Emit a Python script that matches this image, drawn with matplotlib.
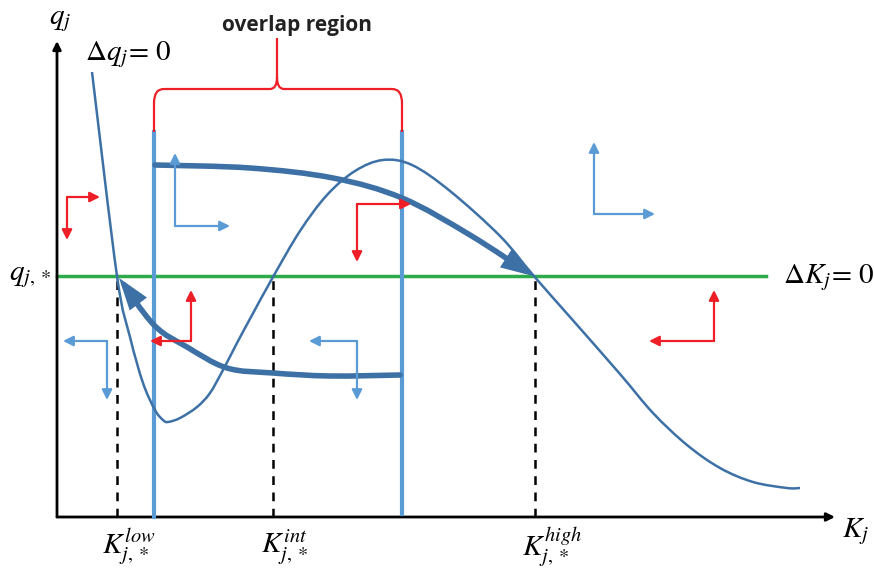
import numpy as np
import matplotlib
matplotlib.use("Agg")
import matplotlib.pyplot as plt
from matplotlib.path import Path
from matplotlib.patches import PathPatch, FancyArrowPatch

plt.rcParams["mathtext.fontset"] = "stix"

# ── colours ──────────────────────────────────────────────────────────────────
DARK_BLUE = "#3D71A6"
LIGHT_BLUE = "#5B9BD5"
GREEN = "#2DAA4A"
RED = "#EE1F26"

# ── data (K along x, q along y, origin at the axes corner) ─────────────────
q_star = 241
K_low, K_int, K_high = 60, 216, 478
K_overlap = [97, 345]          # edges of the overlap region
overlap_top = 385

# Δq_j = 0 nullcline
dq_K = [35, 60, 73, 86, 98, 106, 111, 123, 140, 153, 166, 180, 194, 216,
        243, 270, 298, 326, 355, 393, 443, 476, 513, 563, 596, 630, 663,
        696, 730, 743]
dq_q = [445, 241, 180, 134, 107, 97, 95, 99, 110, 124, 147, 174, 200, 240,
        286, 322, 346, 357, 352, 326, 281, 242, 200, 143, 104, 72, 49,
        35, 29, 29]

# thick trajectories
upper_K = [98, 193, 276, 345, 413, 476]
upper_q = [352, 349, 339, 319, 282, 241]
lower_K = [343, 273, 216, 170, 130, 97, 62]
lower_q = [142, 141, 144, 149, 170, 192, 239]

# direction arrows: corner, horizontal tip, vertical tip
red_corner = [(10, 320), (300, 313), (134, 176), (657, 176)]
red_htip = [43, 354, 93, 592]
red_vtip = [277, 255, 227, 227]
blue_corner = [(118, 291), (537, 303), (50, 176), (300, 176)]
blue_htip = [173, 598, 6, 252]
blue_vtip = [364, 375, 117, 117]


def smooth_path(xs, ys, tension=6.0):
    """Catmull-Rom through the points, expressed as cubic Bezier segments."""
    pts = np.column_stack([xs, ys]).astype(float)
    verts = [pts[0]]
    codes = [Path.MOVETO]
    for i in range(len(pts) - 1):
        p0 = pts[i - 1] if i > 0 else pts[i]
        p1, p2 = pts[i], pts[i + 1]
        p3 = pts[i + 2] if i + 2 < len(pts) else pts[i + 1]
        verts += [p1 + (p2 - p0) / tension, p2 - (p3 - p1) / tension, p2]
        codes += [Path.CURVE4] * 3
    return Path(verts, codes)


fig = plt.figure(figsize=(8.74, 5.69), dpi=100)
ax = fig.add_axes([0, 0, 1, 1])
ax.set_xlim(-57, 817)
ax.set_ylim(-52, 517)
ax.axis("off")

# axes with arrows
ax.annotate("", xy=(778, 0), xytext=(0, 0),
            arrowprops=dict(arrowstyle="-|>", color="black", lw=2,
                            mutation_scale=12, shrinkA=0, shrinkB=0))
ax.annotate("", xy=(0, 476), xytext=(0, 0),
            arrowprops=dict(arrowstyle="-|>", color="black", lw=2,
                            mutation_scale=12, shrinkA=0, shrinkB=0))

# ΔK_j = 0 line
ax.plot([0, 709], [q_star, q_star], color=GREEN, lw=2.5, zorder=2)

# dashed drop lines
for k in (K_low, K_int, K_high):
    ax.plot([k, k], [0, q_star], color="black", lw=1.8, ls=(0, (3.5, 3)),
            zorder=1)

# overlap region boundaries
ax.plot([K_overlap[0]] * 2, [0, overlap_top], color=LIGHT_BLUE, lw=3, zorder=3)
ax.plot([K_overlap[1]] * 2, [3, overlap_top], color=LIGHT_BLUE, lw=3, zorder=3)

# brace over the overlap region
mid = (K_overlap[0] + K_overlap[1]) / 2 - 1
l, r = K_overlap
brace = Path(
    [(l, overlap_top), (l, 414), (l, 428), (l + 10, 428), (mid - 7, 428),
     (mid, 428), (mid, 440), (mid, 479),
     (mid, 440), (mid, 428), (mid + 7, 428),
     (r - 10, 428), (r, 428), (r, 414), (r, overlap_top)],
    [Path.MOVETO, Path.LINETO, Path.CURVE3, Path.CURVE3, Path.LINETO,
     Path.CURVE3, Path.CURVE3, Path.LINETO,
     Path.MOVETO, Path.CURVE3, Path.CURVE3,
     Path.LINETO, Path.CURVE3, Path.CURVE3, Path.LINETO])
ax.add_patch(PathPatch(brace, fill=False, edgecolor=RED, lw=1.6, zorder=3))
ax.text(mid + 20, 492, "overlap region", fontsize=15, fontweight="bold",
        family="Open Sans", ha="center", va="center", color="#222222")

# Δq_j = 0 nullcline
ax.add_patch(PathPatch(smooth_path(dq_K, dq_q), fill=False,
                       edgecolor=DARK_BLUE, lw=1.8, zorder=4))

# thick trajectories
for ks, qs in ((upper_K, upper_q), (lower_K, lower_q)):
    ax.add_patch(FancyArrowPatch(
        path=smooth_path(ks, qs),
        arrowstyle="-|>,head_length=1.5,head_width=0.5",
        mutation_scale=10, color=DARK_BLUE, lw=4, zorder=5,
        shrinkA=0, shrinkB=0, joinstyle="miter"))

# direction arrows
def l_arrow(corner, htip, vtip, color):
    for tip in ((htip, corner[1]), (corner[0], vtip)):
        ax.annotate("", xy=tip, xytext=corner,
                    arrowprops=dict(arrowstyle="-|>,head_length=0.5,head_width=0.25",
                                    color=color, lw=1.6, mutation_scale=12,
                                    shrinkA=0, shrinkB=0), zorder=6)

for c, h, v in zip(red_corner, red_htip, red_vtip):
    l_arrow(c, h, v, RED)
for c, h, v in zip(blue_corner, blue_htip, blue_vtip):
    l_arrow(c, h, v, LIGHT_BLUE)

# labels
fs = 21
ax.text(3, 497, r"$q_j$", fontsize=fs, ha="center", va="center")
ax.text(-27, 241, r"$q_{j,*}$", fontsize=fs, ha="center", va="center")
ax.text(28, 462, r"$\Delta q_j\!=\,0$", fontsize=fs, ha="left", va="center")
ax.text(726, 239, r"$\Delta K_j\!=\,0$", fontsize=fs, ha="left", va="center")
ax.text(785, -15, r"$K_j$", fontsize=fs, ha="left", va="center")
ax.text(K_low - 15, -30, r"$K_{j,*}^{low}$", fontsize=fs, ha="left", va="center")
ax.text(K_int - 12, -30, r"$K_{j,*}^{int}$", fontsize=fs, ha="left", va="center")
ax.text(K_high - 13, -30, r"$K_{j,*}^{high}$", fontsize=fs, ha="left", va="center")

fig.savefig("out.png", dpi=100)
